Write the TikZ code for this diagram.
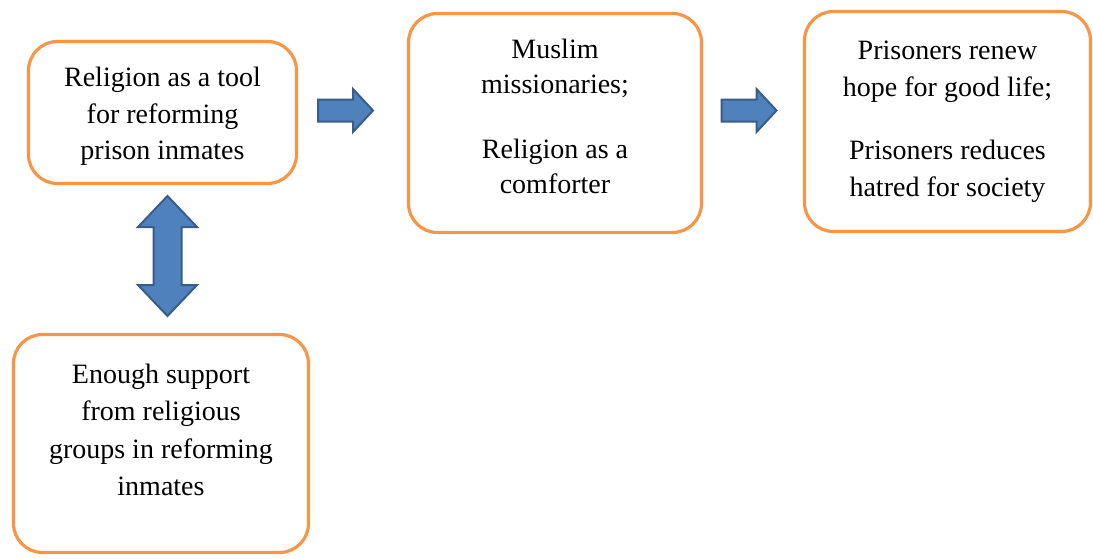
\documentclass[tikz,border=0pt]{standalone}
\usepackage{fontspec}
\setmainfont{Liberation Serif}
\usetikzlibrary{calc}
\definecolor{boxorange}{RGB}{247,150,70}
\definecolor{arrowblue}{RGB}{79,129,189}
\definecolor{arrowedge}{RGB}{56,93,138}
\tikzset{
  stage/.style={draw=boxorange, line width=3.2pt, rounded corners=29pt,
    inner sep=0pt, fill=white},
  stagetext/.style={align=center, inner sep=0pt, anchor=north,
    font=\fontsize{28}{36.5}\selectfont},
  blockarrow/.style={fill=arrowblue, draw=arrowedge, line width=2pt,
    line join=miter},
}
% block arrow pointing right, centred at the given coordinate
\newcommand{\rightblock}[1]{%
  \draw[blockarrow, shift={(#1)}] (-27.5,-11) -- (7.5,-11) -- (7.5,-21.5)
    -- (27.5,0) -- (7.5,21.5) -- (7.5,11) -- (-27.5,11) -- cycle;}

\begin{document}
\begin{tikzpicture}[x=1pt, y=-1pt]
  \useasboundingbox (0,0) rectangle (1093,558);
  \fill[white] (0,0) rectangle (1093,558);

  % boxes
  \node[stage, minimum width=268, minimum height=142] (tool) at (162.5,112.5) {};
  \node[stage, minimum width=293, minimum height=219] (comfort) at (555,123) {};
  \node[stage, minimum width=286, minimum height=220] (hope) at (947.5,121.5) {};
  \node[stage, minimum width=295, minimum height=218] (support) at (161,443.5) {};

  % texts
  \node[stagetext] (tool-text) at ($(tool.north)+(0,27)$)
    {Religion as a tool\\for reforming\\prison inmates};
  \node[stagetext, font=\fontsize{28}{35}\selectfont] (comfort-text)
    at ($(comfort.north)+(0,27)$)
    {Muslim\\missionaries;\\[30pt]Religion as a\\comforter};
  \node[stagetext, font=\fontsize{28}{37}\selectfont] (hope-text)
    at ($(hope.north)+(0,31)$)
    {Prisoners renew\\hope for good life;\\[26pt]Prisoners reduces\\hatred for society};
  \node[stagetext, font=\fontsize{28}{37.5}\selectfont] (support-text)
    at ($(support.north)+(0,30.5)$)
    {Enough support\\from religious\\groups in reforming\\inmates};

  % arrows
  \coordinate (step1) at (345.5,110.5);
  \coordinate (step2) at (749,110.5);
  \coordinate (link) at (167.5,256);
  \rightblock{step1}
  \rightblock{step2}
  \draw[blockarrow, shift={(link)}] (0,-60) -- (29.5,-29) -- (14,-29) -- (14,29)
    -- (29.5,29) -- (0,60) -- (-29.5,29) -- (-14,29) -- (-14,-29)
    -- (-29.5,-29) -- cycle;
\end{tikzpicture}
\end{document}
